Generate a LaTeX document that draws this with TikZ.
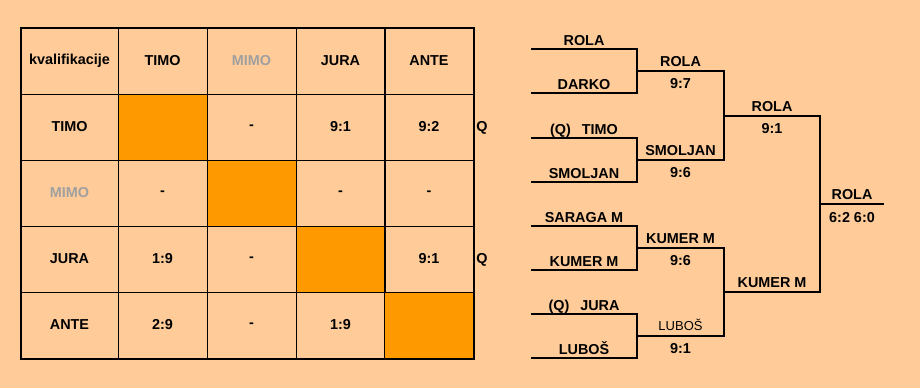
\documentclass[tikz,border=0pt]{standalone}
\usepackage{fontspec}
\setmainfont{Liberation Sans}
\usepackage{xcolor}
\definecolor{peach}{RGB}{255, 204, 153}
\definecolor{tileorange}{RGB}{255, 153, 0}
\definecolor{dimgrey}{RGB}{160, 160, 160}
\usepackage{tikz}
\tikzstyle{cell} = [
    rectangle, draw,
    line width=1pt,
    minimum width=89pt,
    minimum height=66pt,
    inner sep=0pt,
    text centered,
    font=\bfseries\fontsize{14.4}{17}\selectfont
]
\tikzstyle{namecell} = [
    cell,
    minimum width=97pt
]
\tikzstyle{blank} = [
    cell,
    fill=tileorange
]
\tikzstyle{player} = [
    anchor=base,
    inner sep=0pt,
    font=\bfseries\fontsize{14.4}{17}\selectfont
]
\tikzstyle{bline} = [
    line width=2pt
]

\begin{document}
\begin{tikzpicture}[x=1pt, y=-1pt]

\fill [peach] (0,0) rectangle (920,388);
\useasboundingbox (0,0) rectangle (920,388);

% Tabelle
\node (t00) [namecell] at (69.5,61) {kvalifikacije};
\node (t01) [cell] at (162.5,61) {TIMO};
\node (t02) [cell, text=dimgrey] at (251.5,61) {MIMO};
\node (t03) [cell] at (340.5,61) {JURA};
\node (t04) [cell] at (429,61) {ANTE};

\node (t10) [namecell] at (69.5,127) {TIMO};
\node (t11) [blank] at (162.5,127) {};
\node (t12) [cell] at (251.5,127) {-};
\node (t13) [cell] at (340.5,127) {9:1};
\node (t14) [cell] at (429,127) {9:2};

\node (t20) [namecell, text=dimgrey] at (69.5,193) {MIMO};
\node (t21) [cell] at (162.5,193) {-};
\node (t22) [blank] at (251.5,193) {};
\node (t23) [cell] at (340.5,193) {-};
\node (t24) [cell] at (429,193) {-};

\node (t30) [namecell] at (69.5,259) {JURA};
\node (t31) [cell] at (162.5,259) {1:9};
\node (t32) [cell] at (251.5,259) {-};
\node (t33) [blank] at (340.5,259) {};
\node (t34) [cell] at (429,259) {9:1};

\node (t40) [namecell] at (69.5,325) {ANTE};
\node (t41) [cell] at (162.5,325) {2:9};
\node (t42) [cell] at (251.5,325) {-};
\node (t43) [cell] at (340.5,325) {1:9};
\node (t44) [blank] at (429,325) {};

\draw [line width=2pt] (t00.north west) rectangle (t44.south east);

\node (q1) [player, anchor=center] at (482,128) {Q};
\node (q2) [player, anchor=center] at (482,260) {Q};

% Turnierbaum
\coordinate (e1) at (531,49);
\coordinate (e2) at (531,93);
\coordinate (e3) at (531,138);
\coordinate (e4) at (531,182);
\coordinate (e5) at (531,226);
\coordinate (e6) at (531,270);
\coordinate (e7) at (531,314);
\coordinate (e8) at (531,358);
\coordinate (j1) at (637,71);
\coordinate (j2) at (637,160);
\coordinate (j3) at (637,248);
\coordinate (j4) at (637,336);
\coordinate (k1) at (724,116);
\coordinate (k2) at (724,292);
\coordinate (fin) at (820,204);
\coordinate (win) at (884,204);

\draw [bline] (e1) -| (j1) |- (e2);
\draw [bline] (e3) -| (j2) |- (e4);
\draw [bline] (e5) -| (j3) |- (e6);
\draw [bline] (e7) -| (j4) |- (e8);
\draw [bline] (j1) -| (k1) |- (j2);
\draw [bline] (j3) -| (k2) |- (j4);
\draw [bline] (k1) -| (fin) |- (k2);
\draw [bline] (fin) -- (win);

\node (p1) [player] at (584,45) {ROLA};
\node (p2) [player] at (584,89) {DARKO};
\node (p3) [player] at (584,134) {(Q)\hspace{7pt} TIMO};
\node (p4) [player] at (584,178) {SMOLJAN};
\node (p5) [player] at (584,222) {SARAGA M};
\node (p6) [player] at (584,266) {KUMER M};
\node (p7) [player] at (584,310) {(Q)\hspace{7pt} JURA};
\node (p8) [player] at (584,354) {LUBOŠ};

\node (w1) [player] at (680.5,66) {ROLA};
\node (s1) [player] at (680.5,88.5) {9:7};
\node (w2) [player] at (680.5,155) {SMOLJAN};
\node (s2) [player] at (680.5,177) {9:6};
\node (w3) [player] at (680.5,243) {KUMER M};
\node (s3) [player] at (680.5,265) {9:6};
\node (w4) [player, font=\fontsize{13}{15}\selectfont] at (680.5,330) {LUBOŠ};
\node (s4) [player] at (680.5,353) {9:1};

\node (w5) [player] at (772,111) {ROLA};
\node (s5) [player] at (772,133.5) {9:1};
\node (w6) [player] at (772,287) {KUMER M};

\node (champ) [player] at (852,199) {ROLA};
\node (s7) [player] at (852,222) {6:2 6:0};

\end{tikzpicture}
\end{document}
